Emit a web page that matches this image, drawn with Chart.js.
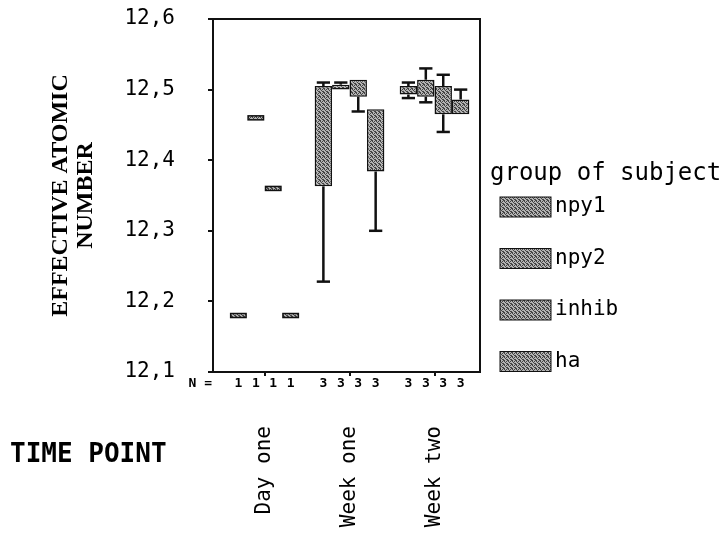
<!DOCTYPE html>
<html>
<head>
<meta charset="utf-8">
<script src="https://cdn.jsdelivr.net/npm/chart.js@4.4.0/dist/chart.umd.min.js"></script>
<style>
  body { margin: 0; background: #fff; }
</style>
</head>
<body>
<canvas id="chart" width="726" height="533"></canvas>
<script>
const timePoints = ["Day one", "Week one", "Week two"];
const groups = ["npy1", "npy2", "inhib", "ha"];
const yTicks = [12.1, 12.2, 12.3, 12.4, 12.5, 12.6];

// rows = groups, columns = time points
const whiskerMin = [
  [12.18, 12.228, 12.488],
  [12.46, 12.5, 12.482],
  [12.36, 12.469, 12.44],
  [12.18, 12.3, 12.465],
];
const boxQ1 = [
  [12.18, 12.363, 12.493],
  [12.46, 12.5, 12.49],
  [12.36, 12.49, 12.465],
  [12.18, 12.384, 12.465],
];
const boxQ3 = [
  [12.18, 12.505, 12.505],
  [12.46, 12.507, 12.514],
  [12.36, 12.514, 12.505],
  [12.18, 12.472, 12.486],
];
const whiskerMax = [
  [12.18, 12.51, 12.51],
  [12.46, 12.51, 12.53],
  [12.36, 12.514, 12.521],
  [12.18, 12.472, 12.5],
];
const counts = [
  [1, 3, 3],
  [1, 3, 3],
  [1, 3, 3],
  [1, 3, 3],
];

// grey speckled fill like the scanned boxes
const pc = document.createElement("canvas");
pc.width = 4;
pc.height = 4;
const pctx = pc.getContext("2d");
pctx.fillStyle = "#b4b4b4";
pctx.fillRect(0, 0, 4, 4);
pctx.fillStyle = "#444";
[[0, 0], [2, 1], [1, 2], [3, 3], [2, 3], [0, 1], [3, 0]].forEach(([a, b]) => pctx.fillRect(a, b, 1, 1));
const pattern = pctx.createPattern(pc, "repeat");

const ink = "#111";
const mono = "DejaVu Sans Mono";

const extras = {
  id: "extras",
  afterDatasetsDraw(chart) {
    const { ctx, chartArea, scales } = chart;
    const y = scales.y;
    ctx.save();
    ctx.strokeStyle = ink;
    const line = (x1, y1, x2, y2) => {
      ctx.beginPath();
      ctx.moveTo(x1, y1);
      ctx.lineTo(x2, y2);
      ctx.stroke();
    };
    groups.forEach((g, i) => {
      const meta = chart.getDatasetMeta(i);
      meta.data.forEach((bar, j) => {
        const x = bar.x;
        const w = bar.width;
        const cap = w * 0.38;
        const top = y.getPixelForValue(boxQ3[i][j]);
        const bottom = y.getPixelForValue(boxQ1[i][j]);
        const hi = y.getPixelForValue(whiskerMax[i][j]);
        const lo = y.getPixelForValue(whiskerMin[i][j]);
        ctx.lineWidth = 2.5;
        if (hi < top - 0.5) {
          line(x, top, x, hi);
          line(x - cap, hi, x + cap, hi);
        }
        if (lo > bottom + 0.5) {
          line(x, bottom, x, lo);
          line(x - cap, lo, x + cap, lo);
        }
        if (boxQ1[i][j] === boxQ3[i][j]) {
          ctx.fillStyle = pattern;
          ctx.fillRect(x - w / 2 + 1, top - 2, w - 2, 4);
          ctx.lineWidth = 1.5;
          ctx.strokeRect(x - w / 2 + 1, top - 2, w - 2, 4);
        }
      });
    });

    // frame
    ctx.lineWidth = 2;
    ctx.strokeRect(chartArea.left, chartArea.top, chartArea.right - chartArea.left, chartArea.bottom - chartArea.top);

    // N counts
    ctx.fillStyle = "#000";
    ctx.font = "bold 13px " + mono;
    ctx.textBaseline = "middle";
    ctx.textAlign = "right";
    const ny = chartArea.bottom + 12;
    ctx.fillText("N =", chartArea.left - 1, ny);
    ctx.textAlign = "center";
    groups.forEach((g, i) => {
      chart.getDatasetMeta(i).data.forEach((bar, j) => {
        ctx.fillText(String(counts[i][j]), bar.x, ny);
      });
    });

    // axis name for the categories
    ctx.textAlign = "left";
    ctx.font = "bold 26px " + mono;
    ctx.fillText("TIME POINT", 10, 455);

    // legend
    ctx.font = "24px " + mono;
    ctx.fillText("group of subject", 490, 174);
    ctx.font = "21px " + mono;
    groups.forEach((g, i) => {
      const cy = 207 + i * 51.5;
      ctx.fillStyle = pattern;
      ctx.fillRect(500, cy - 10, 51, 20);
      ctx.lineWidth = 1;
      ctx.strokeRect(500, cy - 10, 51, 20);
      ctx.fillStyle = "#000";
      ctx.fillText(g, 555, cy);
    });
    ctx.restore();
  },
};

new Chart(document.getElementById("chart"), {
  type: "bar",
  data: {
    datasets: groups.map((g, i) => ({
      label: g,
      data: timePoints.map((t, j) => ({ x: j + 1, y: [boxQ1[i][j], boxQ3[i][j]] })),
      backgroundColor: pattern,
      borderColor: ink,
      borderWidth: 1.5,
      borderSkipped: false,
      categoryPercentage: 0.82,
      barPercentage: 1.0,
    })),
  },
  options: {
    responsive: false,
    devicePixelRatio: 1,
    animation: false,
    events: [],
    layout: { padding: { top: 19, right: 246, left: 0, bottom: 0 } },
    plugins: {
      legend: { display: false },
      tooltip: { enabled: false },
    },
    scales: {
      x: {
        type: "linear",
        offset: false,
        min: 0.394,
        max: 3.535,
        afterBuildTicks: (s) => {
          s.ticks = timePoints.map((t, i) => ({ value: i + 1 }));
        },
        afterFit: (s) => {
          s.height = 161;
          s.paddingLeft = 0;
          s.paddingRight = 0;
        },
        grid: { offset: false, drawOnChartArea: false, tickLength: 4, color: ink, lineWidth: 2 },
        border: { color: ink, width: 2 },
        ticks: {
          minRotation: 90,
          maxRotation: 90,
          autoSkip: false,
          padding: 50,
          color: "#000",
          font: { family: mono, size: 21 },
          callback: (v) => timePoints[Math.round(v) - 1],
        },
      },
      y: {
        min: yTicks[0],
        max: yTicks[yTicks.length - 1],
        afterBuildTicks: (s) => {
          s.ticks = yTicks.map((v) => ({ value: v }));
        },
        afterFit: (s) => {
          s.width = 213;
          s.paddingTop = 0;
          s.paddingBottom = 0;
        },
        grid: { drawOnChartArea: false, tickLength: 5, color: ink, lineWidth: 2 },
        border: { color: ink, width: 2 },
        ticks: {
          padding: 33,
          color: "#000",
          font: { family: mono, size: 21 },
          callback: (v) => v.toFixed(1).replace(".", ","),
        },
        title: {
          display: true,
          text: ["EFFECTIVE ATOMIC", "NUMBER"],
          color: "#000",
          font: { family: "Liberation Serif", size: 24, weight: "bold", lineHeight: 1.05 },
          padding: { top: 48, bottom: 0 },
        },
      },
    },
  },
  plugins: [extras],
});
</script>
</body>
</html>
